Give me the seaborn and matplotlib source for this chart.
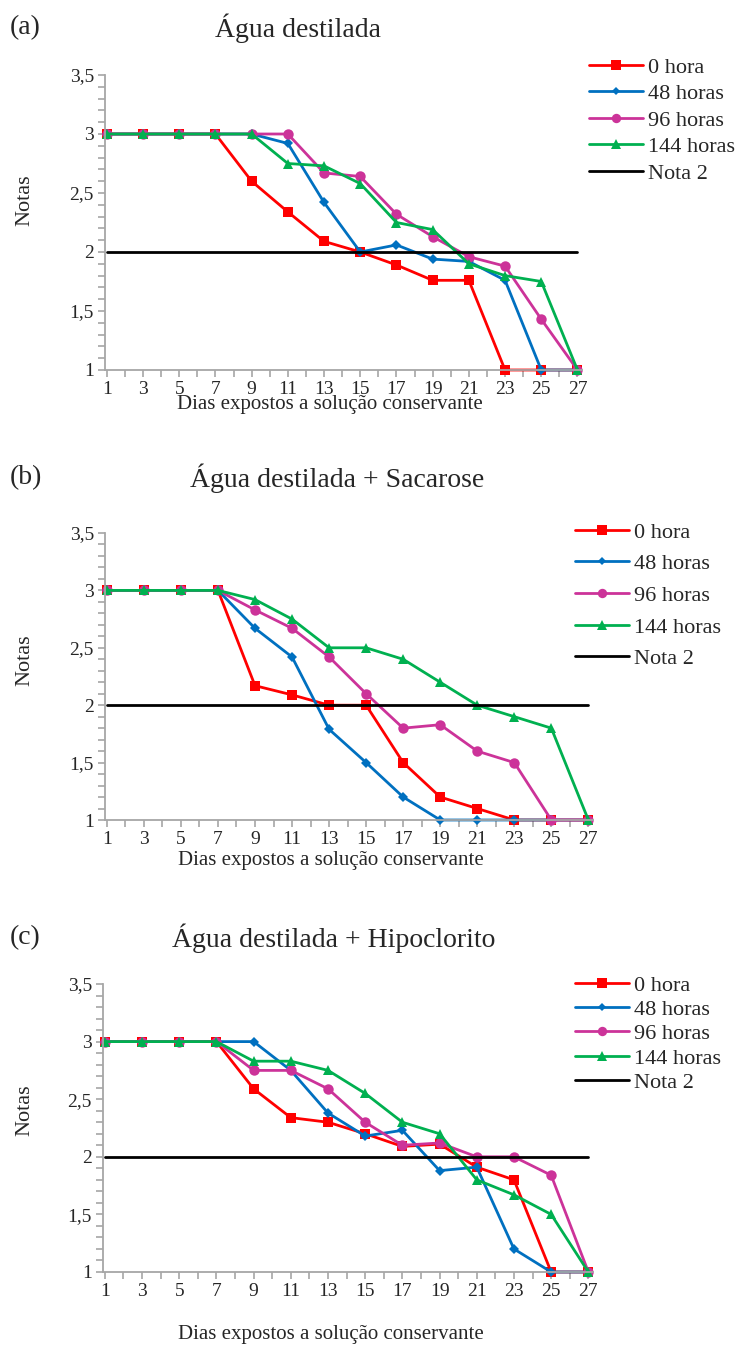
import matplotlib
matplotlib.use('Agg')
import matplotlib.pyplot as plt
import seaborn as sns
from matplotlib.ticker import FuncFormatter, MultipleLocator

# Dias de avaliação (eixo x)
dias = [1, 3, 5, 7, 9, 11, 13, 15, 17, 19, 21, 23, 25, 27]
nota_2 = [2, 2, 2, 2, 2, 2, 2, 2, 2, 2, 2, 2, 2, 2]

# (a) Água destilada
a_0h = [3, 3, 3, 3, 2.6, 2.34, 2.09, 2.0, 1.89, 1.76, 1.76, 1, 1, 1]
a_48h = [3, 3, 3, 3, 3, 2.92, 2.42, 2.0, 2.06, 1.94, 1.92, 1.76, 1, 1]
a_96h = [3, 3, 3, 3, 3, 3, 2.67, 2.64, 2.32, 2.13, 1.96, 1.88, 1.43, 1]
a_144h = [3, 3, 3, 3, 3, 2.75, 2.73, 2.58, 2.25, 2.19, 1.9, 1.8, 1.75, 1]

# (b) Água destilada + Sacarose
b_0h = [3, 3, 3, 3, 2.17, 2.09, 2.0, 2.0, 1.5, 1.2, 1.1, 1, 1, 1]
b_48h = [3, 3, 3, 3, 2.67, 2.42, 1.79, 1.5, 1.2, 1, 1, 1, 1, 1]
b_96h = [3, 3, 3, 3, 2.83, 2.67, 2.42, 2.1, 1.8, 1.83, 1.6, 1.5, 1, 1]
b_144h = [3, 3, 3, 3, 2.92, 2.75, 2.5, 2.5, 2.4, 2.2, 2.0, 1.9, 1.8, 1]

# (c) Água destilada + Hipoclorito
c_0h = [3, 3, 3, 3, 2.59, 2.34, 2.3, 2.2, 2.09, 2.11, 1.91, 1.8, 1, 1]
c_48h = [3, 3, 3, 3, 3, 2.75, 2.38, 2.18, 2.23, 1.88, 1.91, 1.2, 1, 1]
c_96h = [3, 3, 3, 3, 2.75, 2.75, 2.59, 2.3, 2.1, 2.12, 2.0, 2.0, 1.84, 1]
c_144h = [3, 3, 3, 3, 2.83, 2.83, 2.75, 2.55, 2.3, 2.2, 1.8, 1.67, 1.5, 1]

rotulos = ['0 hora', '48 horas', '96 horas', '144 horas']
cores = ['#FF0000', '#0070C0', '#CC3399', '#00B050']
marcadores = ['s', 'D', 'o', '^']
tam_marc = [7.5, 5, 7.5, 7.5]

sns.set_style('ticks')
plt.rcParams['font.family'] = ['Liberation Serif', 'DejaVu Serif']

W, H = 745, 1349
fig = plt.figure(figsize=(W / 100, H / 100), dpi=100)


def fx(px):
    return px / W


def fy(py):
    return 1 - py / H


def painel(letra, titulo, series, ax_box, tit_pos, xl_pos, yl_pos, leg_pos, leg_esp):
    L, R, T, B = ax_box
    ax = fig.add_axes([fx(L), fy(B), fx(R) - fx(L), fy(T) - fy(B)])
    for vals, lab, cor, m, ms in zip(series, rotulos, cores, marcadores, tam_marc):
        sns.lineplot(x=dias, y=vals, ax=ax, color=cor, marker=m, markersize=ms,
                     markeredgewidth=0, linewidth=2, label=lab, clip_on=False)
    sns.lineplot(x=dias, y=nota_2, ax=ax, color='black', linewidth=2,
                 label='Nota 2', clip_on=False)

    ax.set_xlim(0.9, 27.25)
    ax.set_ylim(1, 3.5)
    ax.xaxis.set_minor_locator(MultipleLocator(1))
    ax.yaxis.set_major_locator(MultipleLocator(0.5))
    ax.yaxis.set_minor_locator(MultipleLocator(0.1))
    ax.set_xticks(dias)
    ax.yaxis.set_major_formatter(FuncFormatter(lambda v, p: f'{v:g}'.replace('.', ',')))
    ax.tick_params(which='both', direction='out', length=5, width=1.2,
                   color='#A6A6A6', labelsize=14, pad=3)
    for s in ['top', 'right']:
        ax.spines[s].set_visible(False)
    for s in ['left', 'bottom']:
        ax.spines[s].set_color('#A6A6A6')
        ax.spines[s].set_linewidth(1.3)

    ax.set_xlabel('Dias expostos a solução conservante', fontsize=15, va='center')
    ax.xaxis.set_label_coords(fx(xl_pos[0]), fy(xl_pos[1]), transform=fig.transFigure)
    ax.set_ylabel('Notas', fontsize=16, va='center')
    ax.yaxis.set_label_coords(fx(yl_pos[0]), fy(yl_pos[1]), transform=fig.transFigure)

    fig.text(fx(10), fy(tit_pos[1]), letra, fontsize=20, va='center', ha='left')
    fig.text(fx(tit_pos[0]), fy(tit_pos[1]), titulo, fontsize=20, va='center', ha='center')

    ax.legend(loc='upper left', bbox_to_anchor=(fx(leg_pos[0]), fy(leg_pos[1])),
              bbox_transform=fig.transFigure, frameon=False, fontsize=16,
              borderpad=0, borderaxespad=0, handlelength=2.45, handletextpad=0.2,
              labelspacing=leg_esp, markerscale=0.9)
    return ax


painel('(a)', 'Água destilada', [a_0h, a_48h, a_96h, a_144h],
       (105, 582, 75, 370), (298, 28), (330, 405), (25, 200), (589, 57), 0.27)
painel('(b)', 'Água destilada + Sacarose', [b_0h, b_48h, b_96h, b_144h],
       (105, 593, 533, 820), (337, 478), (331, 860), (25, 660), (575, 522), 0.5)
painel('(c)', 'Água destilada + Hipoclorito', [c_0h, c_48h, c_96h, c_144h],
       (103, 593, 984, 1272), (334, 938), (331, 1335), (25, 1110), (575, 975), 0.17)

fig.savefig('out.png', dpi=100, facecolor='white')
